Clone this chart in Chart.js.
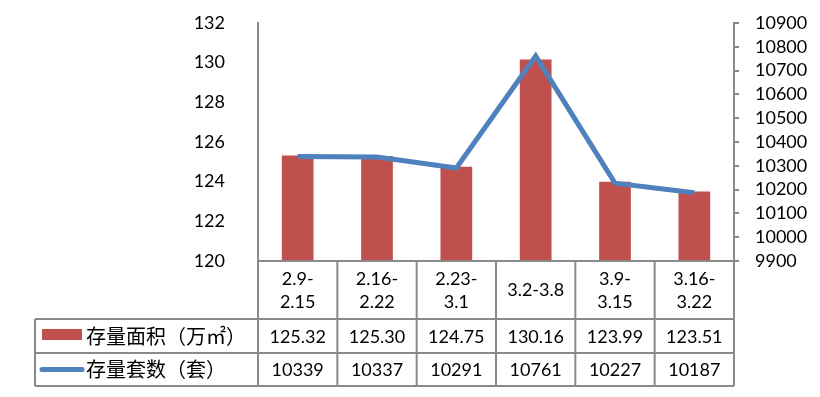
<!DOCTYPE html>
<html>
<head>
<meta charset="utf-8">
<script src="https://cdn.jsdelivr.net/npm/chart.js@4"></script>
<style>
  html, body { margin: 0; padding: 0; background: #fff; }
  canvas { display: block; }
</style>
</head>
<body>
<canvas id="stockChart" width="820" height="397"></canvas>
<script>
// weekly periods (two-line labels as in the data table)
const weeks = [['2.9-', '2.15'], ['2.16-', '2.22'], ['2.23-', '3.1'], ['3.2-3.8'], ['3.9-', '3.15'], ['3.16-', '3.22']];
// 存量面积 (万㎡)
const areaValues = [125.32, 125.30, 124.75, 130.16, 123.99, 123.51];
// 存量套数 (套)
const unitValues = [10339, 10337, 10291, 10761, 10227, 10187];
const areaLabel = '存量面积（万㎡）';
const unitLabel = '存量套数（套）';

const barColor = '#C0504D';
const lineColor = '#4F81BD';
const gridGray = '#8a8a8a';
const numFont = "'Lato', 'Liberation Sans', sans-serif";
const cjkFont = "'Noto Sans CJK SC', sans-serif";

// draws the data table under the plot, columns taken from the x scale
const dataTable = {
  id: 'dataTable',
  afterDraw(chart) {
    const ctx = chart.ctx;
    const area = chart.chartArea;
    const x = chart.scales.x;
    const n = weeks.length;
    const colW = (area.right - area.left) / n;
    const tableLeft = 35;
    const rowTop = area.bottom;
    const row1 = 319, row2 = 353, row3 = 386;

    ctx.save();
    ctx.strokeStyle = gridGray;
    ctx.lineWidth = 2;
    ctx.beginPath();
    ctx.moveTo(area.left, rowTop); ctx.lineTo(area.right, rowTop);
    [row1, row2, row3].forEach(y => { ctx.moveTo(tableLeft, y); ctx.lineTo(area.right, y); });
    ctx.moveTo(tableLeft, row1); ctx.lineTo(tableLeft, row3);
    for (let i = 0; i <= n; i++) {
      const cx = area.left + i * colW;
      ctx.moveTo(cx, rowTop); ctx.lineTo(cx, row3);
    }
    ctx.stroke();

    ctx.fillStyle = '#000';
    ctx.textAlign = 'center';
    ctx.textBaseline = 'middle';
    ctx.font = '18px ' + numFont;
    weeks.forEach((w, i) => {
      const cx = x.getPixelForValue(i);
      if (w.length === 1) {
        ctx.fillText(w[0], cx, (rowTop + row1) / 2);
      } else {
        ctx.fillText(w[0], cx, rowTop + 18);
        ctx.fillText(w[1], cx, rowTop + 41);
      }
      ctx.fillText(areaValues[i].toFixed(2), cx, (row1 + row2) / 2 + 1);
      ctx.fillText(String(unitValues[i]), cx, (row2 + row3) / 2 + 1);
    });

    // legend keys
    ctx.fillStyle = barColor;
    ctx.fillRect(42, 329, 40, 11);
    ctx.strokeStyle = lineColor;
    ctx.lineWidth = 5;
    ctx.lineCap = 'round';
    ctx.beginPath();
    ctx.moveTo(42, 369.5); ctx.lineTo(82, 369.5);
    ctx.stroke();

    ctx.fillStyle = '#000';
    ctx.textAlign = 'left';
    ctx.font = '20px ' + cjkFont;
    ctx.fillText(areaLabel, 86, (row1 + row2) / 2);
    ctx.fillText(unitLabel, 86, (row2 + row3) / 2);
    ctx.restore();
  }
};

new Chart(document.getElementById('stockChart'), {
  type: 'bar',
  data: {
    labels: weeks,
    datasets: [
      {
        type: 'line',
        label: unitLabel,
        data: unitValues,
        yAxisID: 'y1',
        borderColor: lineColor,
        borderWidth: 5,
        pointRadius: 0,
        tension: 0,
        order: 0
      },
      {
        label: areaLabel,
        data: areaValues,
        yAxisID: 'y',
        backgroundColor: barColor,
        categoryPercentage: 1,
        barPercentage: 0.4,
        order: 1
      }
    ]
  },
  options: {
    responsive: false,
    animation: false,
    layout: { padding: { left: 0, right: 0, top: 23, bottom: 136 } },
    plugins: { legend: { display: false }, tooltip: { enabled: false } },
    scales: {
      x: { display: false },
      y: {
        position: 'left',
        min: 120,
        max: 132,
        ticks: { stepSize: 2, autoSkip: false, color: '#000', padding: 25, font: { size: 18, family: numFont } },
        grid: { display: false },
        border: { display: true, color: gridGray, width: 2 },
        afterFit(scale) { scale.width = 258; scale.paddingTop = 0; scale.paddingBottom = 0; }
      },
      y1: {
        position: 'right',
        min: 9900,
        max: 10900,
        ticks: {
          stepSize: 100,
          autoSkip: false,
          color: '#000',
          padding: 16,
          font: { size: 18, family: numFont },
          callback: v => String(v)
        },
        grid: { drawOnChartArea: false, tickLength: 5, color: gridGray, lineWidth: 2 },
        border: { display: true, color: gridGray, width: 2 },
        afterFit(scale) { scale.width = 86; scale.paddingTop = 0; scale.paddingBottom = 0; }
      }
    }
  },
  plugins: [dataTable]
});
</script>
</body>
</html>
